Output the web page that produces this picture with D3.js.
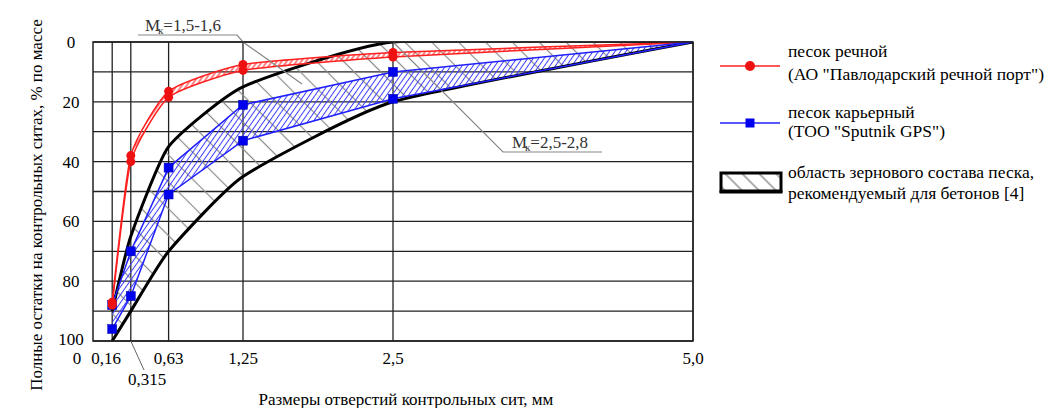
<!DOCTYPE html>
<html>
<head>
<meta charset="utf-8">
<script src="https://cdn.jsdelivr.net/npm/d3@7"></script>
<style>
  body { margin: 0; background: #fff; }
</style>
</head>
<body>
<svg id="chart" width="1049" height="408"></svg>
<script>
// sieve sizes, mm
const sieves = [0.16, 0.315, 0.63, 1.25, 2.5, 5.0];
const sieveLabels = ["0,16", "0,315", "0,63", "1,25", "2,5", "5,0"];

// total residues, % by mass
const riverA = [87, 38, 16.5, 7.5, 3.5, 0];
const riverB = [88, 40, 18.5, 9.5, 5, 0];
const quarryA = [88, 70, 42, 21, 10, 0];
const quarryB = [96, 85, 51, 33, 19, 0];
const zoneFine = [90, 65, 35, 15, 0, 0];     // Мк=1,5-1,6
const zoneCoarse = [100, 90, 70, 45, 20, 0]; // Мк=2,5-2,8

const yTicks = [0, 20, 40, 60, 80, 100];
const yGrid = d3.range(0, 101, 10);

const serif = "Liberation Serif, Times New Roman, Tinos, DejaVu Serif, serif";
const svg = d3.select("#chart").attr("font-family", serif);
const x = d3.scaleLinear().domain([0, 5]).range([93, 693]);
const y = d3.scaleLinear().domain([0, 100]).range([42, 341]);

const band = (a, b) => sieves.map((s, i) => ({ s: s, a: a[i], b: b[i] }));

// hatch patterns
const defs = svg.append("defs");
function hatch(id, size, angle, color, w) {
    defs.append("pattern")
        .attr("id", id)
        .attr("patternUnits", "userSpaceOnUse")
        .attr("width", size).attr("height", size)
        .attr("patternTransform", `rotate(${angle})`)
        .append("line")
        .attr("x1", size / 2).attr("y1", 0)
        .attr("x2", size / 2).attr("y2", size)
        .attr("stroke", color).attr("stroke-width", w);
}
hatch("hGray", 19, -45, "#8a8a8a", 1.2);
hatch("hBlue", 4.5, 35, "#3a3aff", 1);
hatch("hRed", 4, 35, "#ff3030", 1.2);
hatch("hLegend", 12, -45, "#777", 1.2);

defs.append("clipPath").attr("id", "plot").append("rect")
    .attr("x", x(0)).attr("y", y(0))
    .attr("width", x(5) - x(0)).attr("height", y(100) - y(0) + 3);

// grid
svg.append("g").selectAll("line").data(yGrid).join("line")
    .attr("x1", x(0)).attr("x2", x(5))
    .attr("y1", d => y(d)).attr("y2", d => y(d))
    .attr("stroke", "#222").attr("stroke-width", 1.3);
svg.append("g").selectAll("line").data(sieves).join("line")
    .attr("x1", d => x(d)).attr("x2", d => x(d))
    .attr("y1", y(0)).attr("y2", y(100))
    .attr("stroke", "#222").attr("stroke-width", 1.3);

const smooth = d3.curveCardinal.tension(0.5);
const area = d3.area()
    .x(d => x(d.s)).y0(d => y(d.a)).y1(d => y(d.b));

const plot = svg.append("g").attr("clip-path", "url(#plot)");

// recommended zone
plot.append("path").datum(band(zoneFine, zoneCoarse))
    .attr("d", area.curve(smooth)).attr("fill", "url(#hGray)");

// quarry sand band
plot.append("path").datum(band(quarryA, quarryB))
    .attr("d", area.curve(d3.curveLinear)).attr("fill", "url(#hBlue)");

// river sand band
plot.append("path").datum(band(riverA, riverB))
    .attr("d", area.curve(smooth)).attr("fill", "url(#hRed)");

// leaders for the fineness modulus labels
svg.append("polyline")
    .attr("points", [[138, 35], [237, 35], [x(1.25), y(0)], [302, 84]].join(" "))
    .attr("fill", "none").attr("stroke", "#888").attr("stroke-width", 1.2);
svg.append("polyline")
    .attr("points", [[x(2.5), y(0)], [503, 152], [602, 152]].join(" "))
    .attr("fill", "none").attr("stroke", "#888").attr("stroke-width", 1.2);

const line = (vals, curve) => d3.line()
    .x((d, i) => x(sieves[i])).y(d => y(d)).curve(curve)(vals);

// zone boundaries
[zoneFine, zoneCoarse].forEach(v => {
    plot.append("path").attr("d", line(v, smooth))
        .attr("fill", "none").attr("stroke", "#000").attr("stroke-width", 3);
});

// quarry sand
[quarryA, quarryB].forEach(v => {
    svg.append("path").attr("d", line(v, d3.curveLinear))
        .attr("fill", "none").attr("stroke", "#2020ff").attr("stroke-width", 1.5);
    svg.append("g").selectAll("rect").data(v.slice(0, 5)).join("rect")
        .attr("x", (d, i) => x(sieves[i]) - 4.5).attr("y", d => y(d) - 4.5)
        .attr("width", 9).attr("height", 9)
        .attr("fill", "#0000ee").attr("stroke", "#0000aa").attr("stroke-width", 0.5);
});

// river sand
[riverA, riverB].forEach(v => {
    plot.append("path").attr("d", line(v, smooth))
        .attr("fill", "none").attr("stroke", "#ff2020").attr("stroke-width", 1.5);
    svg.append("g").selectAll("circle").data(v.slice(0, 5)).join("circle")
        .attr("cx", (d, i) => x(sieves[i])).attr("cy", d => y(d))
        .attr("r", 4.5).attr("fill", "#ee1111");
});

// frame
svg.append("rect")
    .attr("x", x(0)).attr("y", y(0))
    .attr("width", x(5) - x(0)).attr("height", y(100) - y(0))
    .attr("fill", "none").attr("stroke", "#222").attr("stroke-width", 1.5);

// axis labels
const fs = 17;
const txt = (sel) => sel.attr("font-family", serif).attr("font-size", fs);

svg.append("g").selectAll("text").data(yTicks).join("text")
    .call(txt)
    .attr("x", 71).attr("y", d => y(d) - (d === 100 ? 2 : 0)).attr("dy", "0.35em")
    .attr("text-anchor", "middle").text(d => d);

svg.append("text").call(txt).attr("x", 77).attr("y", 364)
    .attr("text-anchor", "middle").text("0");
svg.append("g").selectAll("text")
    .data(sieves.map((s, i) => ({ s: s, t: sieveLabels[i] })).filter(d => d.s !== 0.315))
    .join("text").call(txt)
    .attr("x", d => x(d.s) - (d.s === 0.16 ? 6 : 0)).attr("y", 364)
    .attr("text-anchor", "middle").text(d => d.t);
svg.append("line")
    .attr("x1", x(0.315)).attr("y1", y(100)).attr("x2", 144).attr("y2", 370)
    .attr("stroke", "#666").attr("stroke-width", 1);
svg.append("text").call(txt).attr("x", 147).attr("y", 385)
    .attr("text-anchor", "middle").text(sieveLabels[1]);

svg.append("text").call(txt).attr("x", 406).attr("y", 405)
    .attr("text-anchor", "middle")
    .text("Размеры отверстий контрольных сит, мм");
svg.append("text").call(txt)
    .attr("transform", "translate(42,205) rotate(-90)")
    .attr("text-anchor", "middle")
    .text("Полные остатки на контрольных ситах, % по массе");

// fineness modulus labels
function mk(xc, yb, t) {
    const tx = svg.append("text").call(txt).attr("x", xc).attr("y", yb)
        .attr("text-anchor", "middle").attr("fill", "#333");
    tx.append("tspan").text("М");
    tx.append("tspan").attr("font-size", 11).attr("dy", 3).attr("dx", -2).text("к");
    tx.append("tspan").attr("dy", -3).text(t);
}
mk(183, 31, "=1,5-1,6");
mk(550, 148, "=2,5-2,8");

// legend
const lg = svg.append("g");
const ltxt = (sel) => sel.attr("font-family", serif).attr("font-size", 17.5);
lg.append("line").attr("x1", 720).attr("x2", 780).attr("y1", 66).attr("y2", 66)
    .attr("stroke", "#ff2020").attr("stroke-width", 1.5);
lg.append("circle").attr("cx", 750).attr("cy", 66).attr("r", 5).attr("fill", "#ee1111");
lg.append("text").call(ltxt).attr("x", 788).attr("y", 57).text("песок речной");
lg.append("text").call(ltxt).attr("x", 788).attr("y", 80).text("(АО \"Павлодарский речной порт\")");

lg.append("line").attr("x1", 720).attr("x2", 780).attr("y1", 123).attr("y2", 123)
    .attr("stroke", "#2020ff").attr("stroke-width", 1.5);
lg.append("rect").attr("x", 745.5).attr("y", 118.5).attr("width", 9).attr("height", 9)
    .attr("fill", "#0000ee");
lg.append("text").call(ltxt).attr("x", 788).attr("y", 118).text("песок карьерный");
lg.append("text").call(ltxt).attr("x", 788).attr("y", 137).text("(ТОО \"Sputnik GPS\")");

lg.append("rect").attr("x", 721).attr("y", 173).attr("width", 60).attr("height", 18)
    .attr("fill", "url(#hLegend)").attr("stroke", "#000").attr("stroke-width", 3);
lg.append("line").attr("x1", 719.5).attr("x2", 782.5).attr("y1", 192).attr("y2", 192)
    .attr("stroke", "#000").attr("stroke-width", 3);
lg.append("text").call(ltxt).attr("x", 788).attr("y", 178).text("область зернового состава песка,");
lg.append("text").call(ltxt).attr("x", 788).attr("y", 199).text("рекомендуемый для бетонов [4]");
</script>
</body>
</html>
